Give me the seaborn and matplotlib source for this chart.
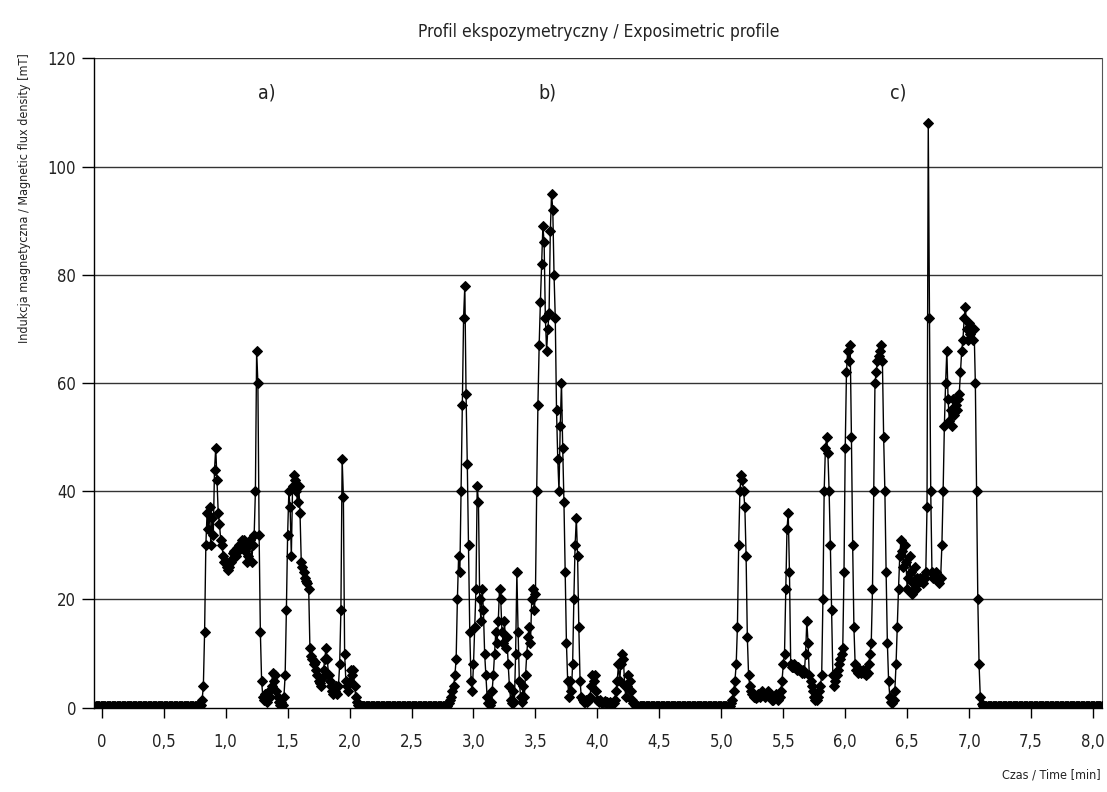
import numpy as np
import pandas as pd
import matplotlib
matplotlib.use("Agg")
import matplotlib.pyplot as plt
import seaborn as sns

# ---------------- data (magnetic flux density, mT, sampled every 0.01 min) ----------------
step_min = 0.01

idle_start_t0 = -0.06
idle_start = [
    0.4, 0.4, 0.4, 0.4, 0.4, 0.4,
    0.4, 0.4, 0.4, 0.4, 0.4, 0.4, 0.4, 0.4, 0.4, 0.4,
    0.4, 0.4, 0.4, 0.4, 0.4, 0.4, 0.4, 0.4, 0.4, 0.4,
    0.4, 0.4, 0.4, 0.4, 0.4, 0.4, 0.4, 0.4, 0.4, 0.4,
    0.4, 0.4, 0.4, 0.4, 0.4, 0.4, 0.4, 0.4, 0.4, 0.4,
    0.4, 0.4, 0.4, 0.4, 0.4, 0.4, 0.4, 0.4, 0.4, 0.4,
    0.4, 0.4, 0.4, 0.4, 0.4, 0.4, 0.4, 0.4, 0.4, 0.4,
    0.4, 0.4, 0.4, 0.4, 0.4, 0.4, 0.4, 0.4, 0.4, 0.4,
    0.4, 0.4, 0.4, 0.4, 0.4, 0.4, 0.4, 0.4, 0.4, 0.4,
]

burst_a_t0 = 0.80
burst_a = [
    0.5, 1.5, 4, 14, 30, 36, 33, 37, 30, 35,
    32, 44, 48, 42, 36, 34, 31, 30, 28, 27,
    27, 26, 25.5, 26, 27, 27.5, 28.5, 29, 28, 29.5,
    29, 30, 29.5, 31, 30.5, 31, 29, 27, 28, 30,
    31, 27, 30, 32, 40, 66, 60, 32, 14, 5,
    2, 1.5, 2.5, 1, 2, 3, 2, 4, 6.5, 5,
    6, 3, 2, 1, 0.5, 1, 0.5, 2, 6, 18,
    32, 40, 37, 28, 41, 43, 42, 40, 38, 41,
    36, 27, 26, 25, 24, 23.5, 23, 22, 11, 9.5,
    9, 8, 8.5, 7, 6, 5, 4.5, 4, 5.5, 7,
    9, 11, 9, 6, 5, 4, 3, 2.5, 3, 4,
    2.5, 4, 8, 18, 46, 39, 10, 5, 4, 3,
    5, 7, 6, 7, 4, 2, 1, 0.5,
]

idle_mid1_t0 = 2.08
idle_mid1 = [
    0.4, 0.4, 0.4, 0.4, 0.4, 0.4, 0.4, 0.4, 0.4, 0.4,
    0.4, 0.4, 0.4, 0.4, 0.4, 0.4, 0.4, 0.4, 0.4, 0.4,
    0.4, 0.4, 0.4, 0.4, 0.4, 0.4, 0.4, 0.4, 0.4, 0.4,
    0.4, 0.4, 0.4, 0.4, 0.4, 0.4, 0.4, 0.4, 0.4, 0.4,
    0.4, 0.4, 0.4, 0.4, 0.4, 0.4, 0.4, 0.4, 0.4, 0.4,
    0.4, 0.4, 0.4, 0.4, 0.4, 0.4, 0.4, 0.4, 0.4, 0.4,
    0.4, 0.4, 0.4, 0.4, 0.4, 0.4, 0.4, 0.4, 0.4, 0.4,
    0.4, 0.4,
]

burst_b_t0 = 2.80
burst_b = [
    0.8, 1.5, 2, 3, 4, 6, 9, 20, 28, 25,
    40, 56, 72, 78, 58, 45, 30, 14, 5, 3,
    8, 15, 22, 41, 38, 20, 16, 22, 18, 10,
    6, 2, 0.8, 0.5, 1, 3, 6, 10, 14, 12,
    16, 22, 20, 14, 12, 16, 11, 13, 8, 4,
    1.5, 0.8, 3, 1, 10, 25, 14, 5, 2, 1,
    4, 2, 6, 10, 13, 15, 12, 20, 22, 18,
    21, 40, 56, 67, 75, 82, 89, 86, 72, 66,
    70, 73, 88, 95, 92, 80, 72, 55, 46, 40,
    52, 60, 48, 38, 25, 12, 5, 2, 5, 3,
    8, 20, 30, 35, 28, 15, 5, 2, 1.5, 1,
    1, 1.5, 1, 1.5, 2, 4, 6, 5, 6, 3,
    1.5, 1, 1.5, 1, 0.8, 1, 1.2, 0.8, 1, 0.8,
    1, 0.8, 0.6, 0.8, 1.5, 3, 5, 8, 5, 8,
    10, 9, 4, 2, 4, 6, 5, 3, 1.5, 0.8,
    0.5,
]

idle_mid2_t0 = 4.31
idle_mid2 = [
    0.4, 0.4, 0.4, 0.4, 0.4, 0.4, 0.4, 0.4, 0.4, 0.4,
    0.4, 0.4, 0.4, 0.4, 0.4, 0.4, 0.4, 0.4, 0.4, 0.4,
    0.4, 0.4, 0.4, 0.4, 0.4, 0.4, 0.4, 0.4, 0.4, 0.4,
    0.4, 0.4, 0.4, 0.4, 0.4, 0.4, 0.4, 0.4, 0.4, 0.4,
    0.4, 0.4, 0.4, 0.4, 0.4, 0.4, 0.4, 0.4, 0.4, 0.4,
    0.4, 0.4, 0.4, 0.4, 0.4, 0.4, 0.4, 0.4, 0.4, 0.4,
    0.4, 0.4, 0.4, 0.4, 0.4, 0.4, 0.4, 0.4, 0.4, 0.4,
    0.4, 0.4, 0.4, 0.4, 0.4, 0.4, 0.4,
]

burst_c_t0 = 5.08
burst_c = [
    0.8, 1.5, 3, 5, 8, 15, 30, 40, 43, 42,
    40, 37, 28, 13, 6, 4, 3, 2.5, 2, 2,
    1.8, 2, 2.5, 2, 2.5, 3, 2.5, 2, 2.5, 2.5,
    3, 2.5, 2, 1.5, 1.5, 2, 2.5, 2, 1.5, 2,
    3, 5, 8, 10, 22, 33, 36, 25, 8, 7.5,
    7.5, 8, 7.5, 7, 7.5, 7, 7, 6.5, 7, 6.5,
    10, 16, 12, 6, 5, 4, 3, 2, 1.5, 1.5,
    2, 3, 4, 6, 20, 40, 48, 50, 47, 40,
    30, 18, 6, 4, 5, 6, 7, 8, 9, 10,
    11, 25, 48, 62, 66, 64, 67, 50, 30, 15,
    8, 7, 6.5, 7, 7, 6.5, 7, 6.5, 7, 6,
    6.5, 8, 10, 12, 22, 40, 60, 62, 64, 65,
    66, 67, 64, 50, 40, 25, 12, 5, 2, 1,
    0.8, 1.5, 3, 8, 15, 22, 28, 31, 29, 26,
    30, 27, 22, 24, 28, 25, 21, 23, 26, 22,
    24, 23, 24, 23.5, 24, 23, 24, 25, 37, 108,
    72, 40, 25, 24, 24.5, 25, 24, 23.5, 23, 24,
    30, 40, 52, 60, 66, 57, 53, 55, 52, 57,
    54, 56, 55, 57, 58, 62, 66, 68, 72, 74,
    70, 68, 71, 69, 70, 68, 70, 60, 40, 20,
    8, 2, 0.6,
]

idle_end_t0 = 7.11
idle_end = [
    0.4, 0.4, 0.4, 0.4, 0.4, 0.4, 0.4, 0.4, 0.4, 0.4,
    0.4, 0.4, 0.4, 0.4, 0.4, 0.4, 0.4, 0.4, 0.4, 0.4,
    0.4, 0.4, 0.4, 0.4, 0.4, 0.4, 0.4, 0.4, 0.4, 0.4,
    0.4, 0.4, 0.4, 0.4, 0.4, 0.4, 0.4, 0.4, 0.4, 0.4,
    0.4, 0.4, 0.4, 0.4, 0.4, 0.4, 0.4, 0.4, 0.4, 0.4,
    0.4, 0.4, 0.4, 0.4, 0.4, 0.4, 0.4, 0.4, 0.4, 0.4,
    0.4, 0.4, 0.4, 0.4, 0.4, 0.4, 0.4, 0.4, 0.4, 0.4,
    0.4, 0.4, 0.4, 0.4, 0.4, 0.4, 0.4, 0.4, 0.4, 0.4,
    0.4, 0.4, 0.4, 0.4, 0.4, 0.4, 0.4, 0.4, 0.4, 0.4,
    0.4, 0.4, 0.4, 0.4, 0.4, 0.4, 0.4,
]

x_tick_values = [0, 0.5, 1.0, 1.5, 2.0, 2.5, 3.0, 3.5, 4.0, 4.5, 5.0, 5.5, 6.0, 6.5, 7.0, 7.5, 8.0]
x_tick_labels = ["0", "0,5", "1,0", "1,5", "2,0", "2,5", "3,0", "3,5", "4,0", "4,5",
                 "5,0", "5,5", "6,0", "6,5", "7,0", "7,5", "8,0"]
y_tick_values = [0, 20, 40, 60, 80, 100, 120]
segment_labels = ["a)", "b)", "c)"]
segment_label_x = [1.33, 3.60, 6.43]

title = "Profil ekspozymetryczny / Exposimetric profile"
y_label = "Indukcja magnetyczna / Magnetic flux density [mT]"
x_label = "Czas / Time [min]"

# ---------------- build table ----------------
segments = [
    (idle_start_t0, idle_start),
    (burst_a_t0, burst_a),
    (idle_mid1_t0, idle_mid1),
    (burst_b_t0, burst_b),
    (idle_mid2_t0, idle_mid2),
    (burst_c_t0, burst_c),
    (idle_end_t0, idle_end),
]
times, values = [], []
for t0, vals in segments:
    times.extend(t0 + step_min * np.arange(len(vals)))
    values.extend(vals)
df = pd.DataFrame({"t": times, "B": values})

# ---------------- plot ----------------
sns.set_theme(style="white")
plt.rcParams["font.family"] = ["DejaVu Sans"]
plt.rcParams["font.stretch"] = "condensed"
plt.rcParams["axes.unicode_minus"] = False
txt_color = "#222222"

fig = plt.figure(figsize=(11.07, 7.92), dpi=100)
ax = fig.add_axes([0.0852, 0.1064, 0.9106, 0.8200])

for yv in y_tick_values[1:]:
    ax.axhline(yv, color="#333333", linewidth=1.0, zorder=0)

sns.lineplot(data=df, x="t", y="B", ax=ax, color="black", linewidth=1.0,
             marker="D", markersize=5.5, markeredgecolor="black",
             markerfacecolor="black", estimator=None, sort=False, zorder=3)

ax.set_xlim(-0.06, 8.075)
ax.set_ylim(0, 120)
ax.set_xticks(x_tick_values)
ax.set_xticklabels(x_tick_labels, fontsize=12, color=txt_color)
ax.set_yticks(y_tick_values)
ax.set_yticklabels([str(v) for v in y_tick_values], fontsize=12, color=txt_color)
ax.tick_params(axis="x", direction="out", length=7, width=1, color="black", pad=11)
ax.tick_params(axis="y", direction="out", length=9, width=1, color="black", pad=4)
ax.xaxis.set_ticks_position("bottom")
ax.yaxis.set_ticks_position("left")
for side in ["left", "bottom"]:
    ax.spines[side].set_color("black")
    ax.spines[side].set_linewidth(1.0)
ax.spines["top"].set_visible(False)
ax.spines["right"].set_color("#555555")
ax.spines["right"].set_linewidth(0.8)

ax.set_xlabel("")
ax.set_ylabel("")
fig.text(0.5405, 0.960, title, ha="center", va="center", fontsize=12.5, color=txt_color)
fig.text(0.022, 0.7495, y_label, ha="center", va="center", rotation=90, fontsize=9,
         color=txt_color)
fig.text(0.994, 0.022, x_label, ha="right", va="center", fontsize=9, color=txt_color)

for lab, xv in zip(segment_labels, segment_label_x):
    ax.text(xv, 113.6, lab, ha="center", va="center", fontsize=14, color=txt_color)

fig.savefig("out.png", dpi=100)
